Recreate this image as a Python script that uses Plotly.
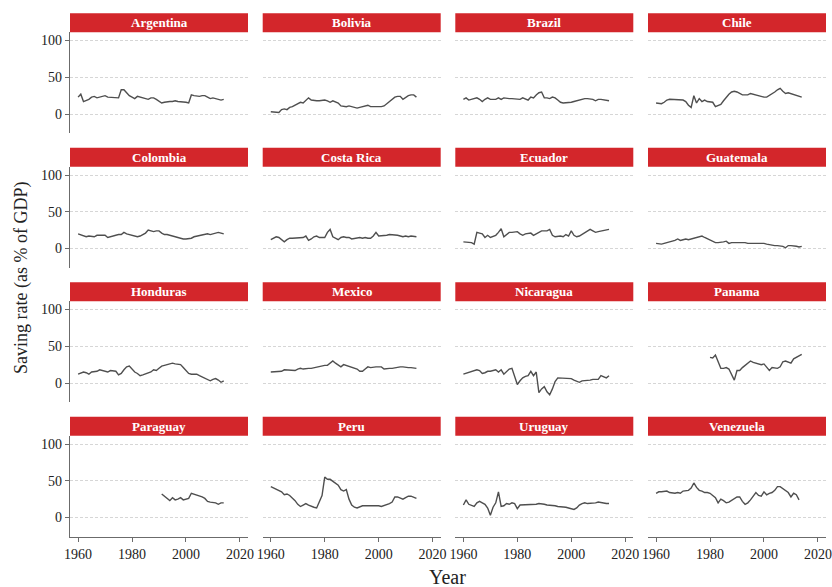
import plotly.graph_objects as go
from plotly.subplots import make_subplots

countries = ["Argentina", "Bolivia", "Brazil", "Chile",
             "Colombia", "Costa Rica", "Ecuador", "Guatemala",
             "Honduras", "Mexico", "Nicaragua", "Panama",
             "Paraguay", "Peru", "Uruguay", "Venezuela"]

x_ticks = [1960, 1980, 2000, 2020]
y_ticks = [0, 50, 100]

argentina_start = 1960
argentina = [23, 27, 17, 18, 20, 23, 24, 22, 23, 23, 25, 23, 23, 23, 22, 22, 33, 33, 29, 25,
             23, 21, 24, 23, 23, 22, 20, 22, 22, 20, 18, 15, 16, 17, 17, 17, 18, 17, 17, 17,
             16, 15, 26, 25, 24, 24, 25, 25, 23, 21, 22, 21, 20, 19, 20]
bolivia_start = 1960
bolivia = [3, 3, 3, 2, 6, 7, 6, 9, 10, 12, 15, 16, 15, 19, 22, 19, 18, 18, 18, 19,
           19, 18, 16, 18, 17, 15, 11, 10, 10, 11, 10, 9, 8, 9, 10, 11, 12, 10, 10, 9,
           9, 10, 11, 14, 16, 20, 23, 24, 24, 20, 23, 25, 26, 26, 23]
brazil_start = 1960
brazil = [20, 22, 19, 20, 20, 22, 20, 17, 20, 22, 20, 20, 20, 22, 20, 22, 21, 21, 21, 21,
          20, 20, 22, 20, 19, 23, 22, 26, 29, 30, 22, 22, 21, 23, 22, 19, 16, 15, 15, 16,
          16, 17, 18, 19, 21, 21, 21, 21, 20, 18, 20, 20, 19, 19, 18]
chile_start = 1960
chile = [15, 15, 14, 16, 19, 20, 20, 20, 20, 20, 19, 17, 12, 9, 25, 15, 21, 17, 19, 17,
         16, 16, 10, 11, 13, 18, 23, 27, 30, 31, 30, 28, 26, 26, 26, 28, 27, 26, 24, 23,
         23, 23, 25, 28, 30, 33, 35, 31, 28, 29, 28, 26, 25, 24, 23]
colombia_start = 1960
colombia = [20, 19, 17, 16, 17, 17, 16, 18, 18, 19, 18, 15, 16, 17, 19, 19, 19, 22, 20, 19,
            18, 17, 16, 17, 19, 21, 25, 24, 23, 24, 24, 21, 19, 19, 18, 17, 15, 14, 13, 13,
            13, 13, 14, 16, 17, 18, 19, 19, 20, 19, 20, 21, 22, 21, 20]
costa_rica_start = 1960
costa_rica = [12, 14, 16, 15, 12, 9, 12, 14, 14, 14, 14, 14, 15, 17, 11, 13, 16, 17, 15, 15,
              15, 22, 26, 16, 14, 12, 15, 16, 15, 15, 13, 14, 15, 15, 14, 15, 14, 14, 17, 22,
              17, 17, 17, 18, 19, 19, 18, 18, 17, 16, 17, 16, 17, 17, 16]
ecuador_start = 1960
ecuador = [9, 9, 9, 8, 6, 22, 21, 20, 15, 18, 15, 16, 18, 22, 27, 16, 19, 22, 22, 22,
           23, 20, 18, 20, 21, 21, 18, 20, 22, 24, 24, 24, 26, 18, 16, 17, 17, 16, 19, 17,
           24, 18, 16, 17, 19, 21, 23, 26, 24, 22, 23, 24, 25, 26, 26]
guatemala_start = 1960
guatemala = [7, 6, 6, 7, 8, 9, 9, 11, 13, 11, 12, 13, 12, 13, 15, 15, 16, 17, 15, 13,
             11, 9, 8, 8, 8, 9, 10, 7, 8, 8, 9, 9, 8, 8, 7, 7, 7, 7, 8, 8,
             7, 6, 5, 5, 4, 4, 4, 3, 1, 4, 4, 4, 3, 2, 3]
honduras_start = 1960
honduras = [12, 14, 15, 14, 12, 15, 15, 16, 18, 17, 16, 15, 17, 17, 16, 11, 13, 18, 22, 23,
            19, 15, 13, 10, 11, 12, 13, 15, 18, 17, 20, 23, 24, 25, 27, 27, 26, 26, 25, 21,
            17, 13, 12, 12, 12, 10, 8, 6, 4, 3, 5, 6, 4, 1, 3]
mexico_start = 1960
mexico = [15, 15, 15, 16, 16, 18, 18, 17, 17, 17, 19, 20, 19, 20, 20, 20, 21, 22, 23, 24,
          24, 24, 27, 30, 27, 25, 22, 25, 24, 23, 22, 21, 19, 16, 16, 19, 22, 21, 22, 22,
          22, 22, 19, 20, 20, 20, 21, 22, 22, 22, 21, 21, 21, 21, 20]
nicaragua_start = 1960
nicaragua = [12, 13, 14, 15, 17, 18, 17, 13, 14, 16, 16, 17, 18, 15, 18, 12, 16, 19, 20, 8,
             -2, 3, 7, 9, 10, 16, 10, 15, -13, -8, -5, -12, -16, -8, 2, 7, 7, 7, 7, 7,
             6, 4, 2, 1, 3, 3, 4, 4, 5, 5, 5, 10, 9, 7, 10]
panama_start = 1980
panama = [35, 34, 38, 29, 20, 20, 21, 19, 12, 4, 17, 17, 21, 24, 26, 30, 28, 27, 27, 25,
          26, 21, 17, 21, 21, 20, 22, 29, 30, 29, 27, 33, 35, 37, 39]
paraguay_start = 1991
paraguay = [32, 29, 26, 23, 27, 24, 25, 27, 24, 25, 26, 33, 32, 30, 29, 28, 26, 22, 21, 21,
            20, 18, 20, 20]
peru_start = 1960
peru = [42, 40, 39, 36, 35, 31, 32, 30, 27, 23, 18, 15, 17, 19, 17, 15, 14, 13, 22, 30,
        55, 52, 52, 49, 46, 44, 38, 36, 38, 25, 17, 14, 13, 15, 16, 16, 16, 17, 16, 16,
        16, 15, 16, 18, 19, 21, 28, 28, 27, 25, 27, 29, 29, 27, 26]
uruguay_start = 1960
uruguay = [17, 24, 18, 17, 15, 20, 22, 20, 18, 13, 3, 14, 20, 35, 15, 16, 19, 18, 20, 19,
           12, 17, 17, 17, 17, 17, 18, 18, 19, 19, 18, 17, 17, 16, 16, 15, 15, 15, 14, 13,
           12, 11, 13, 17, 19, 20, 19, 19, 19, 20, 21, 20, 20, 19, 19]
venezuela_start = 1960
venezuela = [33, 35, 35, 35, 36, 34, 33, 33, 34, 33, 36, 37, 37, 40, 47, 41, 37, 36, 34, 34,
             33, 30, 27, 20, 25, 23, 20, 21, 23, 26, 28, 28, 22, 18, 20, 24, 29, 34, 30, 29,
             35, 31, 33, 34, 37, 42, 42, 39, 36, 34, 28, 33, 31, 24]

series = {
    "Argentina": (argentina_start, argentina),
    "Bolivia": (bolivia_start, bolivia),
    "Brazil": (brazil_start, brazil),
    "Chile": (chile_start, chile),
    "Colombia": (colombia_start, colombia),
    "Costa Rica": (costa_rica_start, costa_rica),
    "Ecuador": (ecuador_start, ecuador),
    "Guatemala": (guatemala_start, guatemala),
    "Honduras": (honduras_start, honduras),
    "Mexico": (mexico_start, mexico),
    "Nicaragua": (nicaragua_start, nicaragua),
    "Panama": (panama_start, panama),
    "Paraguay": (paraguay_start, paraguay),
    "Peru": (peru_start, peru),
    "Uruguay": (uruguay_start, uruguay),
    "Venezuela": (venezuela_start, venezuela),
}

W, H = 832, 587
FONT = "Liberation Serif"
RED = "#D3262B"
LINE = "#4f4f4f"
AXIS = "#6b6b6b"

col_left = [70, 262.7, 455.3, 648]
panel_w = 178
strip_top = [13.3, 147.8, 282.3, 416.8]
strip_h = 19
plot_h = 101

fig = make_subplots(rows=4, cols=4)

shapes = []
annotations = []
for idx, name in enumerate(countries):
    r, c = divmod(idx, 4)
    start, vals = series[name]
    yrs = list(range(start, start + len(vals)))
    fig.add_trace(go.Scatter(x=yrs, y=vals, mode="lines",
                             line=dict(color=LINE, width=1.4),
                             showlegend=False, hoverinfo="skip"),
                  row=r + 1, col=c + 1)
    n = idx + 1
    xl = col_left[c]
    st = strip_top[r]
    xd = [xl / W, (xl + panel_w) / W]
    yd = [1 - (st + strip_h + plot_h) / H, 1 - (st + strip_h) / H]
    xa = "xaxis" if n == 1 else f"xaxis{n}"
    ya = "yaxis" if n == 1 else f"yaxis{n}"
    bottom = (r == 3)
    left = (c == 0)
    fig.layout[xa].update(
        domain=xd, range=[1957, 2023], tickvals=x_ticks, automargin=False,
        showgrid=False, zeroline=False,
        showline=bottom, linecolor=AXIS, linewidth=1.2,
        ticks="outside" if bottom else "", ticklen=4, tickcolor=AXIS, tickwidth=1,
        showticklabels=bottom, tickfont=dict(family=FONT, size=14, color="#222222"),
    )
    fig.layout[ya].update(
        domain=yd, range=[-26.25, 111.25], tickvals=y_ticks, automargin=False,
        showgrid=True, gridcolor="#d6d6d6", gridwidth=0.8, griddash="3px,2px",
        zeroline=False,
        showline=left, linecolor=AXIS, linewidth=1.2,
        ticks="outside" if left else "", ticklen=4, tickcolor=AXIS, tickwidth=1,
        showticklabels=left, tickfont=dict(family=FONT, size=14, color="#222222"),
    )
    shapes.append(dict(type="rect", xref="paper", yref="paper",
                       x0=xl / W, x1=(xl + panel_w) / W,
                       y0=1 - (st + strip_h) / H, y1=1 - st / H,
                       fillcolor=RED, line=dict(width=0), layer="above"))
    annotations.append(dict(text="<b>" + name + "</b>", xref="paper", yref="paper",
                            x=(xl + panel_w / 2) / W, y=1 - (st + strip_h / 2) / H,
                            xanchor="center", yanchor="middle", showarrow=False,
                            font=dict(family=FONT, size=13, color="white")))

annotations.append(dict(text="Saving rate (as % of GDP)", xref="paper", yref="paper",
                        x=22 / W, y=1 - 278 / H, textangle=-90,
                        xanchor="center", yanchor="middle", showarrow=False,
                        font=dict(family=FONT, size=18, color="#222222")))
annotations.append(dict(text="Year", xref="paper", yref="paper",
                        x=447 / W, y=1 - 577 / H,
                        xanchor="center", yanchor="middle", showarrow=False,
                        font=dict(family=FONT, size=20, color="#222222")))

fig.update_layout(
    width=W, height=H,
    margin=dict(l=0, r=0, t=0, b=0, autoexpand=False),
    paper_bgcolor="white", plot_bgcolor="white",
    shapes=shapes, annotations=annotations,
    font=dict(family=FONT),
)

fig.write_html("out.html", config={"displayModeBar": False},
               post_script="document.body.style.margin='0';")
